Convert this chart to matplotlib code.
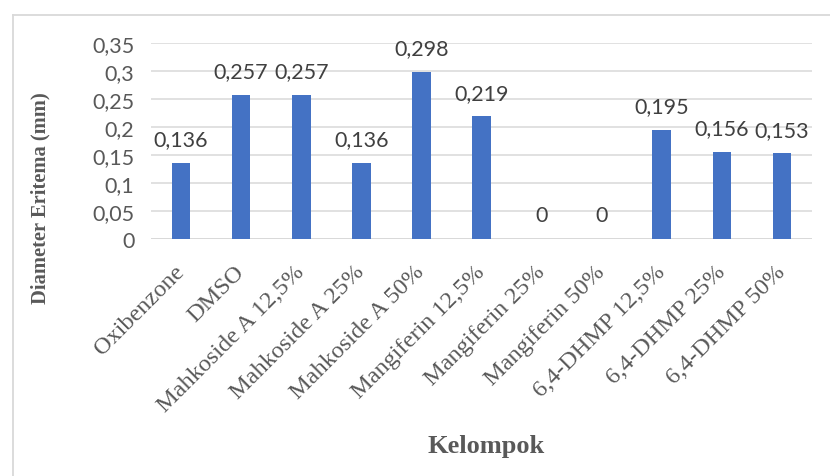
import matplotlib
matplotlib.use("Agg")
import matplotlib.pyplot as plt
from matplotlib.lines import Line2D

categories = [
    "Oxibenzone", "DMSO", "Mahkoside A 12,5%", "Mahkoside A 25%",
    "Mahkoside A 50%", "Mangiferin 12,5%", "Mangiferin 25%",
    "Mangiferin 50%", "6,4-DHMP 12,5%", "6,4-DHMP 25%", "6,4-DHMP 50%",
]
values = [0.136, 0.257, 0.257, 0.136, 0.298, 0.219, 0.0, 0.0, 0.195, 0.156, 0.153]
yticks = [0, 0.05, 0.1, 0.15, 0.2, 0.25, 0.3, 0.35]
ytick_labels = ["0", "0,05", "0,1", "0,15", "0,2", "0,25", "0,3", "0,35"]

W, H = 830, 477
fig = plt.figure(figsize=(W / 100, H / 100), dpi=100)
fig.patch.set_facecolor("white")

# chart frame (light grey border)
x0, ytop = 12.5 / W, 1 - 15.5 / H
fig.add_artist(Line2D([x0, x0], [-0.05, ytop], transform=fig.transFigure,
                      color="#d9d9d9", lw=1.3))
fig.add_artist(Line2D([x0, 1.05], [ytop, ytop], transform=fig.transFigure,
                      color="#d9d9d9", lw=1.3))

left, right = 151 / W, 812 / W
bottom, top = 1 - 240 / H, 1 - 44 / H
ax = fig.add_axes([left, bottom, right - left, top - bottom])

xs = range(len(categories))
ax.bar(xs, values, width=0.31, color="#4472C4", zorder=3)
ax.set_xlim(-0.5, len(categories) - 0.5)
ax.set_ylim(0, 0.35)

ax.set_yticks(yticks)
ax.set_yticklabels(ytick_labels, fontfamily="Lato", fontsize=15.5, color="#595959")
ax.yaxis.grid(True, color="#d9d9d9", lw=1.1, zorder=0)
ax.set_axisbelow(True)
for s in ax.spines.values():
    s.set_visible(False)
ax.axhline(0, color="#d9d9d9", lw=1.3, zorder=2)
ax.tick_params(axis="y", length=0, pad=12)
ax.tick_params(axis="x", length=0, pad=21)

ax.set_xticks(list(xs))
ax.set_xticklabels(categories, rotation=45, ha="right", va="center",
                   rotation_mode="anchor", fontfamily="Liberation Serif",
                   fontsize=17.5, color="#595959")

for x, v in zip(xs, values):
    ax.annotate(f"{v:g}".replace(".", ","), (x, v), xytext=(0, 17),
                textcoords="offset points", ha="center", va="center",
                fontfamily="Lato", fontsize=15.5, color="#404040")

fig.text(40 / W, 1 - 198 / H, "Diameter Eritema (mm)", rotation=90,
         ha="center", va="center", fontfamily="Liberation Serif",
         fontweight="bold", fontsize=14.8, color="#595959")
fig.text(486 / W, 1 - 447 / H, "Kelompok", ha="center", va="center",
         fontfamily="Liberation Serif", fontweight="bold", fontsize=19,
         color="#595959")

fig.savefig("out.png", dpi=100, facecolor="white")
